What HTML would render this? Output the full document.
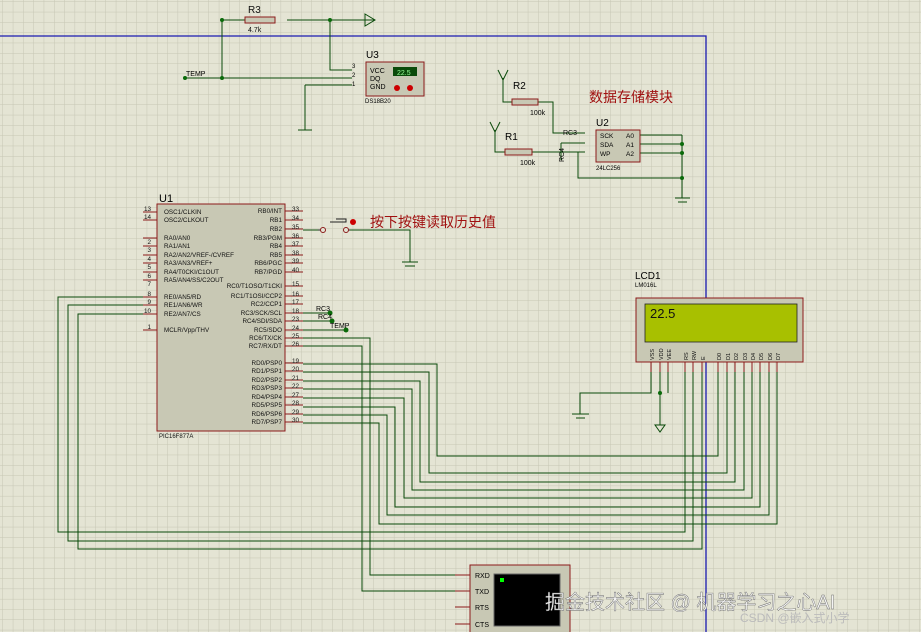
<!DOCTYPE html>
<html><head><meta charset="utf-8"><style>
html,body{margin:0;padding:0;background:#e4e4d4;}
svg{display:block}
text{font-family:"Liberation Sans","Noto Sans CJK SC",sans-serif;}
</style></head><body>
<svg width="921" height="632" viewBox="0 0 921 632" xmlns="http://www.w3.org/2000/svg">
<defs>
<pattern id="g" width="10.3" height="10.3" patternUnits="userSpaceOnUse" x="3" y="2">
<path d="M10.3 0V10.3H0" fill="none" stroke="#c6c6b4" stroke-width="1"/>
</pattern>
</defs>
<rect width="921" height="632" fill="#e4e4d4"/>
<rect width="921" height="632" fill="url(#g)"/>
<path d="M0 36H706V632" fill="none" stroke="#1a1ab0" stroke-width="1.3"/>

<g stroke="#0a4a0a" stroke-width="1" fill="none">
<path d="M222 20V78M222 20H245M287 20H375M330 20V70H352M185 78H352M305 85H352M305 85V130M298 130H312"/>
<path d="M365 14L375 20L365 26Z"/>
<path d="M503 78V102H512M538 102H553V133H585M495 130V152H505M532 152H585M561 143H585M561 143V160M578 152V178H682M640 135H682M640 144H682M640 153H682M682 135V198M675 198H690M678 202H687"/>
<path d="M498 70L503 80L508 70" /><path d="M490 122L495 132L500 122"/>
<path d="M303 230H318M350 230H410V262M402 262H418M405 266H415"/>
<path d="M303 313H330M303 321H332M303 330H346"/>
<path d="M303 338H370V575H455M303 346H362V591H455"/>
<path d="M303 364H437V456H718V370"/>
<path d="M303 372H429V473H727V370"/>
<path d="M303 381H420V482H735V370"/>
<path d="M303 389H412V490H744V370"/>
<path d="M303 398H404V498H752V370"/>
<path d="M303 407H395V507H760V370"/>
<path d="M303 415H387V515H769V370"/>
<path d="M303 423H379V524H777V370"/>
<path d="M143 297H58V532H685V370"/>
<path d="M143 305H68V541H693V370"/>
<path d="M143 314H78V549H702V370"/>
<path d="M651 370V393H580V414M572 414H589M576 418H585M668 370V393M660 370V425"/>
<path d="M655 425L660 432L665 425Z"/>
</g>
<g fill="#0a6a0a">
<circle cx="222" cy="78" r="2"/><circle cx="222" cy="20" r="2"/><circle cx="185" cy="78" r="2"/><circle cx="330" cy="20" r="2"/><circle cx="682" cy="144" r="2"/><circle cx="682" cy="153" r="2"/><circle cx="682" cy="178" r="2"/><circle cx="330" cy="313" r="2.5"/><circle cx="332" cy="321" r="2.5"/><circle cx="346" cy="330" r="2.5"/><circle cx="660" cy="393" r="2"/>
</g>

<rect x="245" y="17" width="30" height="6" fill="#c8c8b4" stroke="#8b1a1a"/>
<text x="248" y="13" font-size="10" fill="#111">R3</text><text x="248" y="32" font-size="7" fill="#111">4.7k</text>
<rect x="512" y="99" width="26" height="6" fill="#c8c8b4" stroke="#8b1a1a"/>
<text x="513" y="89" font-size="10">R2</text><text x="530" y="115" font-size="7">100k</text>
<rect x="505" y="149" width="27" height="6" fill="#c8c8b4" stroke="#8b1a1a"/>
<text x="505" y="140" font-size="10">R1</text><text x="520" y="165" font-size="7">100k</text>
<text x="563" y="135" font-size="7">RC3</text>
<text x="558" y="160" font-size="7" transform="rotate(-90 562 158)">RC4</text>
<text x="186" y="76" font-size="7">TEMP</text>
<text x="316" y="311" font-size="7">RC3</text><text x="318" y="319" font-size="7">RC4</text><text x="330" y="328" font-size="7">TEMP</text>

<rect x="366" y="62" width="58" height="34" fill="#c8c8b4" stroke="#8b1a1a"/>
<text x="366" y="58" font-size="10">U3</text>
<text x="370" y="73" font-size="7">VCC</text><text x="370" y="81" font-size="7">DQ</text><text x="370" y="89" font-size="7">GND</text>
<rect x="393" y="67" width="24" height="9" fill="#0a4a0a"/><text x="397" y="75" font-size="7" fill="#9f9">22.5</text>
<circle cx="397" cy="88" r="3" fill="#c00"/><circle cx="410" cy="88" r="3" fill="#c00"/>
<text x="352" y="68" font-size="6">3</text><text x="352" y="77" font-size="6">2</text><text x="352" y="86" font-size="6">1</text>
<text x="365" y="103" font-size="6">DS18B20</text>

<text x="589" y="102" font-size="14" fill="#a01010">数据存储模块</text>
<rect x="596" y="130" width="44" height="32" fill="#c8c8b4" stroke="#8b1a1a"/>
<text x="596" y="126" font-size="10">U2</text>
<text x="600" y="138" font-size="6.5">SCK</text><text x="600" y="147" font-size="6.5">SDA</text><text x="600" y="156" font-size="6.5">WP</text>
<text x="626" y="138" font-size="6.5">A0</text><text x="626" y="147" font-size="6.5">A1</text><text x="626" y="156" font-size="6.5">A2</text>
<text x="596" y="170" font-size="6">24LC256</text>

<text x="370" y="227" font-size="14" fill="#a01010">按下按键读取历史值</text>
<path d="M318 230h5M330 222h16v-3h-10M346 230h4" stroke="#222" fill="none"/>
<circle cx="323" cy="230" r="2.5" fill="#e4e4d4" stroke="#8b1a1a"/><circle cx="346" cy="230" r="2.5" fill="#e4e4d4" stroke="#8b1a1a"/>
<circle cx="353" cy="222" r="3" fill="#c00"/>

<text x="159" y="202" font-size="11">U1</text>
<rect x="157" y="204" width="128" height="227" fill="#c8c8b4" stroke="#8b1a1a"/>
<g stroke="#8b1a1a"><path d="M143 212H157M143 220H157M143 238H157M143 246H157M143 255H157M143 263H157M143 272H157M143 280H157M143 297H157M143 305H157M143 314H157M143 330H157"/>
<path d="M285 211H303M285 220H303M285 229H303M285 238H303M285 246H303M285 255H303M285 263H303M285 272H303M285 286H303M285 296H303M285 304H303M285 313H303M285 321H303M285 330H303M285 338H303M285 346H303M285 363H303M285 371H303M285 380H303M285 388H303M285 397H303M285 405H303M285 414H303M285 422H303"/></g>
<g font-size="6.3" fill="#111">
<text x="164" y="214">OSC1/CLKIN</text><text x="164" y="222">OSC2/CLKOUT</text>
<text x="164" y="240">RA0/AN0</text><text x="164" y="248">RA1/AN1</text><text x="164" y="257">RA2/AN2/VREF-/CVREF</text><text x="164" y="265">RA3/AN3/VREF+</text><text x="164" y="274">RA4/T0CKI/C1OUT</text><text x="164" y="282">RA5/AN4/SS/C2OUT</text>
<text x="164" y="299">RE0/AN5/RD</text><text x="164" y="307">RE1/AN6/WR</text><text x="164" y="316">RE2/AN7/CS</text><text x="164" y="332">MCLR/Vpp/THV</text>
<g text-anchor="end">
<text x="282" y="213">RB0/INT</text><text x="282" y="222">RB1</text><text x="282" y="231">RB2</text><text x="282" y="240">RB3/PGM</text><text x="282" y="248">RB4</text><text x="282" y="257">RB5</text><text x="282" y="265">RB6/PGC</text><text x="282" y="274">RB7/PGD</text>
<text x="282" y="288">RC0/T1OSO/T1CKI</text><text x="282" y="298">RC1/T1OSI/CCP2</text><text x="282" y="306">RC2/CCP1</text><text x="282" y="315">RC3/SCK/SCL</text><text x="282" y="323">RC4/SDI/SDA</text><text x="282" y="332">RC5/SDO</text><text x="282" y="340">RC6/TX/CK</text><text x="282" y="348">RC7/RX/DT</text>
<text x="282" y="365">RD0/PSP0</text><text x="282" y="373">RD1/PSP1</text><text x="282" y="382">RD2/PSP2</text><text x="282" y="390">RD3/PSP3</text><text x="282" y="399">RD4/PSP4</text><text x="282" y="407">RD5/PSP5</text><text x="282" y="416">RD6/PSP6</text><text x="282" y="424">RD7/PSP7</text>
</g>
<g text-anchor="end"><text x="151" y="211">13</text><text x="151" y="219">14</text><text x="151" y="244">2</text><text x="151" y="252">3</text><text x="151" y="261">4</text><text x="151" y="269">5</text><text x="151" y="278">6</text><text x="151" y="286">7</text><text x="151" y="296">8</text><text x="151" y="304">9</text><text x="151" y="313">10</text><text x="151" y="329">1</text></g>
<text x="292" y="211">33</text><text x="292" y="220">34</text><text x="292" y="229">35</text><text x="292" y="238">36</text><text x="292" y="246">37</text><text x="292" y="255">38</text><text x="292" y="263">39</text><text x="292" y="272">40</text>
<text x="292" y="286">15</text><text x="292" y="296">16</text><text x="292" y="304">17</text><text x="292" y="313">18</text><text x="292" y="321">23</text><text x="292" y="330">24</text><text x="292" y="338">25</text><text x="292" y="346">26</text>
<text x="292" y="363">19</text><text x="292" y="371">20</text><text x="292" y="380">21</text><text x="292" y="388">22</text><text x="292" y="397">27</text><text x="292" y="405">28</text><text x="292" y="414">29</text><text x="292" y="422">30</text>
<text x="159" y="438" font-size="6">PIC16F877A</text>
</g>

<text x="635" y="279" font-size="10">LCD1</text><text x="635" y="287" font-size="6">LM016L</text>
<rect x="636" y="298" width="167" height="64" fill="#c8c8b4" stroke="#8b1a1a"/>
<rect x="645" y="304" width="152" height="38" fill="#a8c000" stroke="#222" stroke-width="0.8"/>
<text x="650" y="318" font-size="13" font-family="Liberation Mono" fill="#111">22.5</text>
<g stroke="#8b1a1a"><path d="M651 362V372M660 362V372M668 362V372M685 362V372M693 362V372M702 362V372M718 362V372M727 362V372M735 362V372M744 362V372M752 362V372M760 362V372M769 362V372M777 362V372"/></g>
<g font-size="5.5" fill="#111">
<text transform="translate(654 360) rotate(-90)">VSS</text><text transform="translate(663 360) rotate(-90)">VDD</text><text transform="translate(671 360) rotate(-90)">VEE</text>
<text transform="translate(688 360) rotate(-90)">RS</text><text transform="translate(696 360) rotate(-90)">RW</text><text transform="translate(705 360) rotate(-90)">E</text>
<text transform="translate(721 360) rotate(-90)">D0</text><text transform="translate(730 360) rotate(-90)">D1</text><text transform="translate(738 360) rotate(-90)">D2</text><text transform="translate(747 360) rotate(-90)">D3</text><text transform="translate(755 360) rotate(-90)">D4</text><text transform="translate(763 360) rotate(-90)">D5</text><text transform="translate(772 360) rotate(-90)">D6</text><text transform="translate(780 360) rotate(-90)">D7</text>
</g>

<rect x="470" y="565" width="100" height="70" fill="#c8c8b4" stroke="#8b1a1a"/>
<rect x="494" y="574" width="66" height="52" fill="#000" stroke="#666"/>
<rect x="500" y="578" width="4" height="4" fill="#0f0"/>
<g stroke="#8b1a1a"><path d="M455 575H470M455 591H470M455 607H470M455 624H470"/></g>
<g font-size="7"><text x="475" y="578">RXD</text><text x="475" y="594">TXD</text><text x="475" y="610">RTS</text><text x="475" y="627">CTS</text></g>

<text x="545" y="609" font-size="20" fill="#f4f4f4" stroke="#666" stroke-width="0.4">掘金技术社区 @ 机器学习之心AI</text>
<text x="740" y="622" font-size="12" fill="#bbb">CSDN @嵌入式小学</text>
</svg>
</body></html>
